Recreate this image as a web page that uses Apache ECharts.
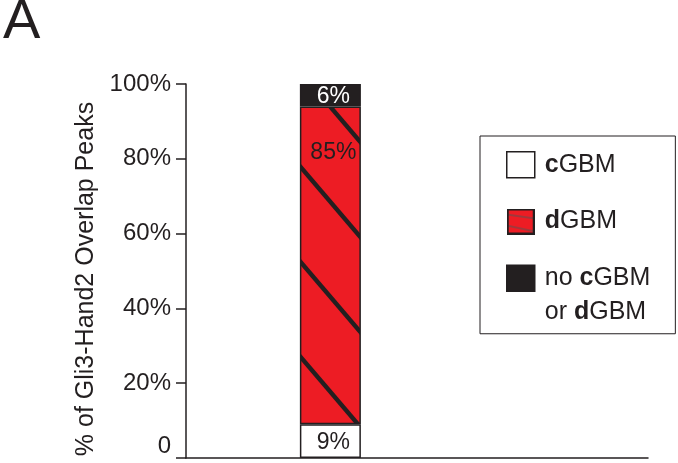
<!DOCTYPE html>
<html>
<head>
<meta charset="utf-8">
<script src="https://cdn.jsdelivr.net/npm/echarts@6/dist/echarts.min.js"></script>
<style>
  html, body { margin: 0; padding: 0; background: #fff; }
  #chart { width: 678px; height: 463px; }
</style>
</head>
<body>
<div id="chart"></div>
<script>
// one stacked bar, placed in the 3rd of 8 slots so it sits left of centre
const categories = ['', '', 'Gli3-Hand2', '', '', '', '', '']
const cGBM = [null, null, 9, null, null, null, null, null]
const dGBM = [null, null, 85, null, null, null, null, null]
const noGBM = [null, null, 6, null, null, null, null, null]
const yTickLabels = ['0', '20%', '40%', '60%', '80%', '100%']
const seriesNames = ['cGBM', 'dGBM', 'no cGBM or dGBM']
const legendLabels = [
  '{b|c}GBM',
  '{b|d}GBM',
  '{l1|no }{l1b|c}{l1|GBM}\n{l2|or }{l2b|d}{l2|GBM}'
]

const INK = '#231f20'
const RED = '#ed1c24'
const FONT = 'Liberation Sans, Arial, sans-serif'

// diagonal stripes for the red segment
const makeStripes = () => {
  const w = 81, h = 95
  const c = document.createElement('canvas')
  c.width = w
  c.height = h
  const ctx = c.getContext('2d')
  ctx.fillStyle = RED
  ctx.fillRect(0, 0, w, h)
  ctx.strokeStyle = INK
  ctx.lineWidth = 4.4
  const k = h / w
  for (const off of [-h, 0, h]) {
    ctx.beginPath()
    ctx.moveTo(-10, 4.4 + off - 10 * k)
    ctx.lineTo(w + 10, 4.4 + off + (w + 10) * k)
    ctx.stroke()
  }
  return c
}

// small legend swatch for dGBM
const makeSwatch = () => {
  const c = document.createElement('canvas')
  c.width = 28
  c.height = 26
  const ctx = c.getContext('2d')
  ctx.fillStyle = RED
  ctx.fillRect(0, 0, 28, 26)
  ctx.strokeStyle = '#555'
  ctx.lineWidth = 1
  ctx.beginPath()
  ctx.moveTo(0, 6); ctx.lineTo(28, 10)
  ctx.moveTo(0, 17); ctx.lineTo(28, 23)
  ctx.stroke()
  ctx.strokeStyle = INK
  ctx.lineWidth = 2
  ctx.strokeRect(1, 1, 26, 24)
  return c.toDataURL()
}

const chart = echarts.init(document.getElementById('chart'))

const barBase = {
  type: 'bar',
  stack: 'total',
  barWidth: 61,
  animation: false,
  emphasis: { disabled: true },
  label: {
    show: true,
    formatter: '{c}%',
    fontSize: 23,
    fontFamily: FONT
  }
}

const bold = { fontSize: 25, fontWeight: 'bold', color: INK, fontFamily: FONT }
const plain = { fontSize: 25, color: INK, fontFamily: FONT }

const option = {
  animation: false,
  textStyle: { fontFamily: FONT },
  title: {
    text: 'A',
    left: 3,
    top: -5,
    padding: 0,
    textStyle: { fontSize: 56, fontWeight: 'normal', color: INK, fontFamily: FONT }
  },
  grid: { left: 186, right: 30, top: 84, bottom: 5, outerBoundsMode: 'none' },
  xAxis: {
    type: 'category',
    data: categories,
    axisLine: { lineStyle: { color: INK, width: 1.5 } },
    axisTick: { show: false },
    axisLabel: { show: false }
  },
  yAxis: {
    type: 'value',
    min: 0,
    max: 100,
    interval: 20,
    name: '% of Gli3-Hand2 Overlap Peaks',
    nameLocation: 'middle',
    nameGap: 85,
    nameTextStyle: { fontSize: 25, color: INK, fontFamily: FONT, padding: [0, 16, 0, 0] },
    axisLine: { show: true, lineStyle: { color: INK, width: 1.5 } },
    axisTick: { show: true, length: 10, lineStyle: { color: INK, width: 1.5 } },
    axisLabel: {
      fontSize: 24,
      color: INK,
      margin: 15,
      fontFamily: FONT,
      verticalAlignMinLabel: 'bottom',
      formatter: v => yTickLabels[v / 20]
    },
    splitLine: { show: false }
  },
  legend: {
    orient: 'vertical',
    left: 480,
    top: 136,
    padding: [15, 25, 9, 26],
    borderColor: INK,
    borderWidth: 1,
    icon: 'rect',
    itemWidth: 28,
    itemHeight: 26,
    itemGap: 30,
    selectedMode: false,
    itemStyle: { borderWidth: 1.5, borderColor: INK },
    formatter: name => legendLabels[seriesNames.indexOf(name)],
    textStyle: {
      ...plain,
      padding: [0, 0, 0, 5],
      rich: {
        b: bold,
        l1: { ...plain, padding: [34, 0, 0, 0] },
        l1b: { ...bold, padding: [34, 0, 0, 0] },
        l2: { ...plain, padding: [9, 0, 0, 0] },
        l2b: { ...bold, padding: [9, 0, 0, 0] }
      }
    },
    data: [
      { name: seriesNames[0] },
      { name: seriesNames[1], icon: 'image://' + makeSwatch() },
      { name: seriesNames[2] }
    ]
  },
  series: [
    {
      ...barBase,
      name: seriesNames[0],
      data: cGBM,
      itemStyle: { color: '#fff', borderColor: INK, borderWidth: 1.5 },
      label: { ...barBase.label, position: 'inside', color: INK, offset: [3, 1] }
    },
    {
      ...barBase,
      name: seriesNames[1],
      data: dGBM,
      itemStyle: { color: { image: makeStripes(), repeat: 'repeat' }, borderColor: INK, borderWidth: 1.5 },
      label: { ...barBase.label, position: 'insideTop', distance: 35, color: INK, offset: [3, 0] }
    },
    {
      ...barBase,
      name: seriesNames[2],
      data: noGBM,
      itemStyle: { color: INK, borderColor: INK, borderWidth: 1.5 },
      label: { ...barBase.label, position: 'inside', color: '#fff', offset: [3, 1] }
    }
  ]
}

chart.setOption(option)
window.addEventListener('resize', () => chart.resize())
</script>
</body>
</html>
